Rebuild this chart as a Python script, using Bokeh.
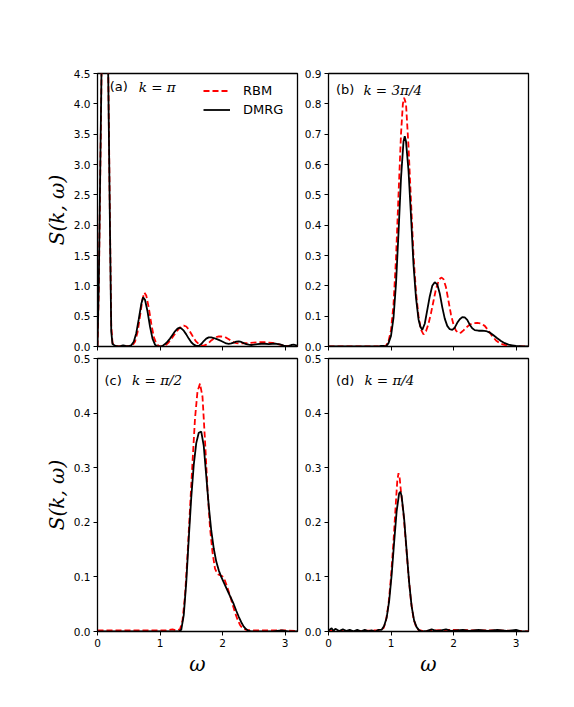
from bokeh.plotting import figure
from bokeh.layouts import column, row
from bokeh.models import Range1d, FixedTicker, PrintfTickFormatter, Label
from bokeh.embed import file_html
from bokeh.resources import INLINE

# ---------------- data ----------------
x_ticks = [0, 1, 2, 3]
y_ticks_a = [0.0, 0.5, 1.0, 1.5, 2.0, 2.5, 3.0, 3.5, 4.0, 4.5]
y_ticks_b = [0.0, 0.1, 0.2, 0.3, 0.4, 0.5, 0.6, 0.7, 0.8, 0.9]
y_ticks_cd = [0.0, 0.1, 0.2, 0.3, 0.4, 0.5]

# (a) k = pi
a_w_dmrg = [0.00, 0.02, 0.04, 0.06, 0.08, 0.10, 0.12, 0.14, 0.16, 0.18,
            0.20, 0.22, 0.24, 0.27, 0.30, 0.34, 0.38, 0.41, 0.45, 0.50,
            0.54, 0.58, 0.62, 0.66, 0.70, 0.73, 0.76, 0.80, 0.84, 0.88,
            0.92, 0.96, 1.00, 1.04, 1.08, 1.12, 1.16, 1.20, 1.24, 1.28,
            1.31, 1.34, 1.38, 1.42, 1.46, 1.50, 1.54, 1.58, 1.62, 1.66,
            1.70, 1.74, 1.78, 1.82, 1.86, 1.90, 1.94, 1.98, 2.02, 2.06,
            2.10, 2.14, 2.18, 2.22, 2.26, 2.30, 2.34, 2.38, 2.42, 2.46,
            2.50, 2.56, 2.62, 2.68, 2.74, 2.80, 2.86, 2.92, 2.98, 3.02,
            3.06, 3.10, 3.14, 3.18, 3.20]
a_dmrg = [0.0, 1.0, 2.6, 4.2, 6.0, 7.6, 8.1, 7.6, 5.5, 3.7,
          1.9, 0.25, 0.04, 0.02, 0.005, 0.0, 0.01, 0.02, 0.01, 0.005,
          0.02, 0.08, 0.22, 0.45, 0.70, 0.81, 0.77, 0.58, 0.33, 0.13,
          0.03, 0.0, 0.0, 0.01, 0.04, 0.08, 0.13, 0.19, 0.25, 0.295,
          0.31, 0.30, 0.26, 0.20, 0.13, 0.07, 0.03, 0.01, 0.01, 0.04,
          0.09, 0.13, 0.15, 0.15, 0.14, 0.125, 0.11, 0.09, 0.07, 0.05,
          0.045, 0.05, 0.065, 0.08, 0.085, 0.075, 0.055, 0.04, 0.03, 0.025,
          0.03, 0.04, 0.045, 0.045, 0.04, 0.045, 0.045, 0.035, 0.015, 0.005,
          0.01, 0.025, 0.03, 0.02, 0.015]
a_w_rbm = [0.00, 0.02, 0.04, 0.06, 0.08, 0.10, 0.12, 0.14, 0.16, 0.18,
           0.20, 0.22, 0.24, 0.28, 0.34, 0.40, 0.46, 0.52, 0.56, 0.60,
           0.64, 0.68, 0.72, 0.75, 0.78, 0.82, 0.86, 0.90, 0.94, 0.98,
           1.02, 1.06, 1.10, 1.14, 1.18, 1.22, 1.26, 1.30, 1.34, 1.38,
           1.42, 1.46, 1.50, 1.54, 1.58, 1.62, 1.66, 1.70, 1.74, 1.78,
           1.82, 1.86, 1.90, 1.94, 1.98, 2.02, 2.06, 2.10, 2.14, 2.18,
           2.22, 2.26, 2.32, 2.38, 2.44, 2.50, 2.56, 2.62, 2.68, 2.74,
           2.80, 2.86, 2.92, 2.98, 3.04, 3.10, 3.16, 3.20]
a_rbm = [0.0, 0.9, 2.5, 4.1, 5.9, 7.6, 8.3, 7.7, 5.7, 3.8,
         2.0, 0.35, 0.06, 0.01, 0.0, 0.01, 0.005, 0.005, 0.02, 0.08,
         0.23, 0.50, 0.78, 0.89, 0.84, 0.64, 0.38, 0.16, 0.05, 0.01,
         0.0, 0.01, 0.03, 0.07, 0.12, 0.18, 0.24, 0.29, 0.33, 0.345,
         0.33, 0.28, 0.21, 0.14, 0.08, 0.04, 0.02, 0.015, 0.03, 0.06,
         0.10, 0.13, 0.155, 0.165, 0.165, 0.16, 0.145, 0.12, 0.095, 0.07,
         0.055, 0.05, 0.05, 0.055, 0.06, 0.065, 0.07, 0.07, 0.07, 0.065,
         0.06, 0.05, 0.03, 0.015, 0.008, 0.01, 0.008, 0.005]

# (b) k = 3pi/4
b_w_dmrg = [0.00, 0.40, 0.80, 0.84, 0.88, 0.92, 0.96, 1.00, 1.04, 1.08,
            1.12, 1.16, 1.20, 1.22, 1.24, 1.28, 1.32, 1.36, 1.40, 1.44,
            1.47, 1.50, 1.54, 1.58, 1.62, 1.66, 1.70, 1.74, 1.78, 1.82,
            1.86, 1.90, 1.94, 1.98, 2.02, 2.06, 2.10, 2.14, 2.18, 2.22,
            2.26, 2.30, 2.34, 2.40, 2.46, 2.52, 2.58, 2.64, 2.70, 2.76,
            2.82, 2.88, 2.94, 3.00, 3.06, 3.12, 3.20]
b_dmrg = [0.0, 0.0, 0.0, 0.002, 0.002, 0.0, 0.011, 0.035, 0.094, 0.207,
          0.374, 0.555, 0.676, 0.693, 0.676, 0.58, 0.43, 0.27, 0.16, 0.09,
          0.065, 0.055, 0.075, 0.12, 0.165, 0.20, 0.212, 0.205, 0.175, 0.13,
          0.092, 0.068, 0.057, 0.055, 0.062, 0.078, 0.09, 0.097, 0.096, 0.088,
          0.072, 0.060, 0.054, 0.052, 0.052, 0.051, 0.046, 0.037, 0.027, 0.018,
          0.011, 0.006, 0.004, 0.002, 0.001, 0.0, 0.0]
b_w_rbm = [0.00, 0.40, 0.80, 0.84, 0.88, 0.92, 0.96, 1.00, 1.04, 1.08,
           1.12, 1.16, 1.19, 1.21, 1.24, 1.28, 1.32, 1.36, 1.40, 1.44,
           1.48, 1.52, 1.56, 1.60, 1.64, 1.68, 1.72, 1.76, 1.79, 1.81,
           1.84, 1.88, 1.92, 1.96, 2.00, 2.04, 2.08, 2.12, 2.16, 2.20,
           2.26, 2.32, 2.38, 2.44, 2.50, 2.56, 2.62, 2.68, 2.74, 2.80,
           2.86, 2.92, 3.00, 3.20]
b_rbm = [0.0, 0.0, 0.0, 0.002, 0.001, 0.003, 0.017, 0.054, 0.138, 0.29,
         0.50, 0.70, 0.80, 0.82, 0.80, 0.66, 0.48, 0.30, 0.18, 0.10,
         0.055, 0.04, 0.05, 0.075, 0.11, 0.15, 0.19, 0.215, 0.225, 0.227,
         0.222, 0.195, 0.15, 0.105, 0.072, 0.052, 0.044, 0.046, 0.053, 0.062,
         0.072, 0.077, 0.078, 0.076, 0.068, 0.052, 0.034, 0.02, 0.011, 0.006,
         0.003, 0.001, 0.0, 0.0]

# (c) k = pi/2
c_w_dmrg = [0.00, 0.50, 1.00, 1.30, 1.34, 1.38, 1.42, 1.46, 1.50, 1.54,
            1.58, 1.62, 1.66, 1.70, 1.74, 1.78, 1.82, 1.86, 1.90, 1.94,
            1.98, 2.02, 2.06, 2.10, 2.14, 2.18, 2.22, 2.26, 2.30, 2.34,
            2.38, 2.42, 2.46, 2.80, 2.95, 3.05, 3.20]
c_dmrg = [0.0, 0.0, 0.0, 0.0, 0.003, 0.03, 0.09, 0.17, 0.245, 0.305,
          0.345, 0.364, 0.366, 0.34, 0.285, 0.23, 0.185, 0.152, 0.128, 0.112,
          0.10, 0.09, 0.08, 0.07, 0.06, 0.05, 0.038, 0.027, 0.017, 0.009,
          0.004, 0.001, 0.0, 0.0, 0.002, 0.0, 0.0]
c_w_rbm = [0.00, 0.40, 0.80, 1.10, 1.20, 1.26, 1.32, 1.36, 1.40, 1.44,
           1.48, 1.52, 1.56, 1.60, 1.64, 1.68, 1.72, 1.76, 1.80, 1.84,
           1.88, 1.92, 1.96, 2.00, 2.04, 2.08, 2.12, 2.16, 2.20, 2.24,
           2.28, 2.32, 2.38, 2.50, 2.80, 3.00, 3.20]
c_rbm = [0.002, 0.002, 0.002, 0.002, 0.004, 0.002, 0.004, 0.02, 0.065, 0.14,
         0.225, 0.31, 0.39, 0.44, 0.454, 0.43, 0.35, 0.26, 0.19, 0.145,
         0.115, 0.105, 0.103, 0.101, 0.093, 0.08, 0.066, 0.05, 0.035, 0.022,
         0.012, 0.006, 0.003, 0.002, 0.002, 0.002, 0.001]

# (d) k = pi/4
d_w_dmrg = [0.00, 0.05, 0.08, 0.11, 0.17, 0.23, 0.29, 0.34, 0.40, 0.46,
            0.52, 0.58, 0.64, 0.69, 0.75, 0.80, 0.85, 0.89, 0.93, 0.97,
            1.01, 1.05, 1.09, 1.13, 1.15, 1.17, 1.21, 1.25, 1.29, 1.33,
            1.37, 1.41, 1.45, 1.50, 1.58, 1.65, 1.72, 1.80, 1.88, 1.96,
            2.05, 2.15, 2.25, 2.40, 2.55, 2.70, 2.85, 3.00, 3.10, 3.20]
d_dmrg = [0.002, 0.006, 0.001, 0.005, 0.001, 0.004, 0.001, 0.003, 0.0005, 0.003,
          0.0005, 0.003, 0.0005, 0.002, 0.0, 0.003, 0.003, 0.010, 0.025, 0.055,
          0.103, 0.163, 0.22, 0.253, 0.256, 0.248, 0.207, 0.148, 0.09, 0.046,
          0.020, 0.008, 0.002, 0.0, 0.001, 0.004, 0.001, 0.002, 0.004, 0.001,
          0.002, 0.003, 0.001, 0.003, 0.001, 0.003, 0.001, 0.003, 0.0, 0.0]
d_w_rbm = [0.00, 0.40, 0.80, 0.84, 0.88, 0.92, 0.96, 1.00, 1.04, 1.08,
           1.10, 1.12, 1.14, 1.16, 1.20, 1.24, 1.28, 1.32, 1.36, 1.40,
           1.44, 1.50, 1.90, 2.40, 2.70, 3.00, 3.20]
d_rbm = [0.001, 0.001, 0.002, 0.004, 0.006, 0.02, 0.05, 0.10, 0.165, 0.24,
         0.275, 0.29, 0.28, 0.255, 0.215, 0.16, 0.103, 0.055, 0.024, 0.009,
         0.003, 0.001, 0.003, 0.002, 0.002, 0.001, 0.0]

series_names = ["RBM", "DMRG"]
panel_tags = ["(a)", "(b)", "(c)", "(d)"]
panel_ks = ["k = π", "k = 3π/4", "k = π/2", "k = π/4"]

RED = "#ff0000"
BLACK = "#000000"


def make_panel(w_rbm, rbm, w_dmrg, dmrg, ymax, yticks, left, right, top, bottom,
               show_xlabels, ylabel, tag, ktext, tag_pos, k_pos, legend=False):
    p = figure(frame_width=200, frame_height=273,
               min_border_left=left, min_border_right=right,
               min_border_top=top, min_border_bottom=bottom,
               x_range=Range1d(0, 3.2), y_range=Range1d(0, ymax),
               output_backend="svg", toolbar_location=None,
               background_fill_color="white", border_fill_color="white")
    p.grid.visible = False
    p.outline_line_color = BLACK
    p.outline_line_width = 1.3
    p.outline_line_alpha = 1.0

    kw_r = dict(line_color=RED, line_width=1.8, line_dash="6 3")
    kw_k = dict(line_color=BLACK, line_width=1.8)
    if legend:
        p.line(w_rbm, rbm, legend_label=series_names[0], **kw_r)
        p.line(w_dmrg, dmrg, legend_label=series_names[1], **kw_k)
    else:
        p.line(w_rbm, rbm, **kw_r)
        p.line(w_dmrg, dmrg, **kw_k)

    for ax in (p.xaxis[0], p.yaxis[0]):
        ax.axis_line_color = BLACK
        ax.axis_line_width = 1.0
        ax.major_tick_in = 0
        ax.major_tick_out = 4
        ax.major_tick_line_color = BLACK
        ax.minor_tick_in = 0
        ax.minor_tick_out = 0
        ax.major_label_text_font = "DejaVu Sans"
        ax.major_label_text_font_size = "10.5px"
        ax.major_label_text_color = BLACK
        ax.major_label_standoff = 3

    p.yaxis.ticker = FixedTicker(ticks=yticks)
    p.yaxis.formatter = PrintfTickFormatter(format="%.1f")
    if not show_xlabels:
        # shared x axis: tick marks only, no labels
        p.xaxis.ticker = FixedTicker(ticks=[], minor_ticks=x_ticks)
        p.xaxis.minor_tick_out = 4
        p.xaxis.minor_tick_in = 0
        p.xaxis.minor_tick_line_color = BLACK
        p.xaxis.minor_tick_line_width = 1
        p.xaxis.major_label_standoff = 0
    else:
        p.xaxis.ticker = FixedTicker(ticks=x_ticks)
        p.xaxis.axis_label = "ω"
        p.xaxis.axis_label_text_font = "DejaVu Serif"
        p.xaxis.axis_label_text_font_style = "italic"
        p.xaxis.axis_label_text_font_size = "20px"
        p.xaxis.axis_label_text_color = BLACK
        p.xaxis.axis_label_standoff = 2
    if ylabel:
        p.yaxis.axis_label = ylabel
        p.yaxis.axis_label_text_font = "DejaVu Serif"
        p.yaxis.axis_label_text_font_style = "italic"
        p.yaxis.axis_label_text_font_size = "20px"
        p.yaxis.axis_label_text_color = BLACK
        p.yaxis.axis_label_standoff = 2

    p.add_layout(Label(x=tag_pos[0], y=tag_pos[1], text=tag,
                       text_font="DejaVu Sans", text_font_size="13px",
                       text_color=BLACK, text_baseline="middle"))
    p.add_layout(Label(x=k_pos[0], y=k_pos[1], text=ktext,
                       text_font="DejaVu Serif", text_font_style="italic",
                       text_font_size="13.5px",
                       text_color=BLACK, text_baseline="middle"))

    if legend:
        lg = p.legend[0]
        lg.location = (102, 225)
        lg.label_text_font = "DejaVu Sans"
        lg.label_text_font_size = "13px"
        lg.label_text_color = BLACK
        lg.glyph_width = 27
        lg.glyph_height = 15
        lg.label_height = 15
        lg.label_standoff = 13
        lg.spacing = 4
        lg.padding = 4
        lg.margin = 0
        lg.border_line_alpha = 0
        lg.background_fill_alpha = 0
    return p


pa = make_panel(a_w_rbm, a_rbm, a_w_dmrg, a_dmrg, 4.5, y_ticks_a,
                97, 2, 73, 6, False, "S(k, ω)", panel_tags[0], panel_ks[0],
                (0.196, 4.28), (0.66, 4.28), legend=True)
pb = make_panel(b_w_rbm, b_rbm, b_w_dmrg, b_dmrg, 0.9, y_ticks_b,
                29, 10, 73, 6, False, None, panel_tags[1], panel_ks[1],
                (0.118, 0.847), (0.558, 0.847))
pc = make_panel(c_w_rbm, c_rbm, c_w_dmrg, c_dmrg, 0.5, y_ticks_cd,
                97, 2, 6, 59, True, "S(k, ω)", panel_tags[2], panel_ks[2],
                (0.112, 0.4606), (0.553, 0.4606))
pd_ = make_panel(d_w_rbm, d_rbm, d_w_dmrg, d_dmrg, 0.5, y_ticks_cd,
                 29, 10, 6, 59, True, None, panel_tags[3], panel_ks[3],
                 (0.118, 0.4606), (0.574, 0.4606))

layout = column(row(pa, pb), row(pc, pd_))

with open("out.html", "w") as f:
    f.write(file_html(layout, INLINE))
